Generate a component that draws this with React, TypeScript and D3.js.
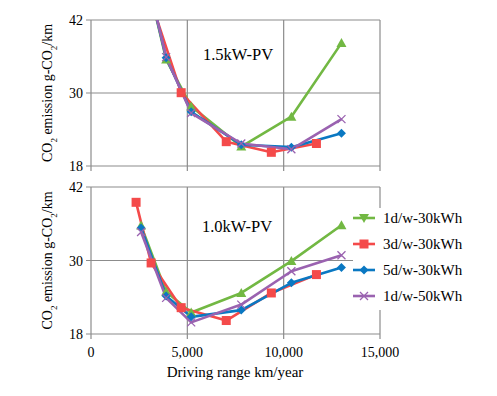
import { useEffect, useRef } from 'react';
import * as d3 from 'd3';

// driving range (km/year) per series
const xCommon = [2600, 3900, 5200, 7800, 10400, 13000];
const xRed = [2340, 3120, 4680, 7020, 9360, 11700];

// 1.5kW-PV panel (g-CO2/km), first points run off the top
const greenTop = [53, 35.5, 27.8, 21.2, 26.1, 38.2];
const redTop = [58, 45, 30.05, 22.0, 20.25, 21.7];
const blueTop = [53, 35.8, 26.9, 21.5, 21.1, 23.4];
const purpleTop = [53, 35.9, 26.7, 21.7, 20.75, 25.7];

// 1.0kW-PV panel
const greenBot = [35.7, 24.9, 21.5, 24.7, 29.9, 35.75];
const redBot = [39.5, 29.6, 22.3, 20.2, 24.7, 27.7];
const blueBot = [35.3, 24.2, 20.8, 21.9, 26.35, 28.85];
const purpleBot = [34.65, 23.9, 19.9, 22.8, 28.25, 30.85];

const seriesNames = ['1d/w-30kWh', '3d/w-30kWh', '5d/w-30kWh', '1d/w-50kWh'];
const panelLabels = ['1.5kW-PV', '1.0kW-PV'];
const xTicks = [0, 5000, 10000, 15000];
const yTicks = [18, 30, 42];

type Marker = 'tri' | 'square' | 'diamond' | 'cross';
const colors = ['#72b843', '#f44a4a', '#0a78c2', '#9a62b0'];
const markers: Marker[] = ['tri', 'square', 'diamond', 'cross'];

const W = 497;
const H = 396;

const App = () => {
  const svgRef = useRef<SVGSVGElement | null>(null);

  useEffect(() => {
    if (!svgRef.current) return;
    const svg = d3.select(svgRef.current);
    svg.selectAll('*').remove();

    const font = '"Liberation Serif", "Times New Roman", serif';
    const grid = '#8c8c8c';

    const x = d3.scaleLinear().domain([0, 15000]).range([91, 380]);

    const panels = [
      { top: 20, bottom: 166, data: [greenTop, redTop, blueTop, purpleTop], label: panelLabels[0], lx: 238, ly: 60 },
      { top: 187, bottom: 334, data: [greenBot, redBot, blueBot, purpleBot], label: panelLabels[1], lx: 237, ly: 232 },
    ];

    const drawMarker = (g: d3.Selection<SVGGElement, unknown, null, undefined>, m: Marker, cx: number, cy: number, c: string, flip = false) => {
      if (m === 'tri') {
        const s = flip ? -1 : 1;
        g.append('path')
          .attr('d', `M${cx},${cy - 5 * s} L${cx + 5},${cy + 4 * s} L${cx - 5},${cy + 4 * s} Z`)
          .attr('fill', c);
      } else if (m === 'square') {
        g.append('rect').attr('x', cx - 4.5).attr('y', cy - 4.5).attr('width', 9).attr('height', 9).attr('fill', c);
      } else if (m === 'diamond') {
        g.append('path')
          .attr('d', `M${cx},${cy - 4.5} L${cx + 4.5},${cy} L${cx},${cy + 4.5} L${cx - 4.5},${cy} Z`)
          .attr('fill', c);
      } else {
        g.append('path')
          .attr('d', `M${cx - 4},${cy - 4} L${cx + 4},${cy + 4} M${cx - 4},${cy + 4} L${cx + 4},${cy - 4}`)
          .attr('stroke', c)
          .attr('stroke-width', 1.3)
          .attr('fill', 'none');
      }
    };

    panels.forEach((p, pi) => {
      const y = d3.scaleLinear().domain([18, 42]).range([p.bottom, p.top]);
      const g = svg.append('g');

      // grid
      yTicks.forEach(t => {
        g.append('line')
          .attr('x1', x(0) - 5).attr('x2', x(15000))
          .attr('y1', y(t)).attr('y2', y(t))
          .attr('stroke', grid).attr('stroke-width', 1.2);
        g.append('text')
          .attr('x', x(0) - 8).attr('y', y(t) + 5)
          .attr('text-anchor', 'end')
          .style('font-family', font).style('font-size', '14px')
          .text(t);
      });
      xTicks.forEach(t => {
        g.append('line')
          .attr('x1', x(t)).attr('x2', x(t))
          .attr('y1', p.top).attr('y2', p.bottom + 5)
          .attr('stroke', grid).attr('stroke-width', 1.2);
      });

      // y title
      const yt = g.append('text')
        .attr('transform', `translate(52,${(p.top + p.bottom) / 2}) rotate(-90)`)
        .attr('text-anchor', 'middle')
        .style('font-family', font).style('font-size', '14px');
      yt.append('tspan').text('CO');
      yt.append('tspan').attr('baseline-shift', 'sub').style('font-size', '9px').text('2');
      yt.append('tspan').text(' emission g-CO');
      yt.append('tspan').attr('baseline-shift', 'sub').style('font-size', '9px').text('2');
      yt.append('tspan').text('/km');

      const clipId = `clip${pi}`;
      svg.append('clipPath').attr('id', clipId)
        .append('rect')
        .attr('x', x(0) - 10).attr('y', p.top)
        .attr('width', x(15000) - x(0) + 20).attr('height', p.bottom - p.top + 10);

      const lines = svg.append('g').attr('clip-path', `url(#${clipId})`);
      p.data.forEach((vals, si) => {
        const xs = si === 1 ? xRed : xCommon;
        const pts: [number, number][] = vals.map((v, i) => [x(xs[i]), y(v)]);
        lines.append('path')
          .attr('d', d3.line()(pts))
          .attr('fill', 'none')
          .attr('stroke', colors[si])
          .attr('stroke-width', 2.6)
          .attr('stroke-linejoin', 'round');
      });
      p.data.forEach((vals, si) => {
        const xs = si === 1 ? xRed : xCommon;
        vals.forEach((v, i) => {
          if (v > 42) return;
          drawMarker(lines, markers[si], x(xs[i]), y(v), colors[si]);
        });
      });

      svg.append('text')
        .attr('x', p.lx).attr('y', p.ly)
        .attr('text-anchor', 'middle')
        .style('font-family', font).style('font-size', '16.5px')
        .text(p.label);
    });

    // x tick labels + title
    xTicks.forEach(t => {
      svg.append('text')
        .attr('x', x(t)).attr('y', 357)
        .attr('text-anchor', 'middle')
        .style('font-family', font).style('font-size', '14px')
        .text(d3.format(',')(t));
    });
    svg.append('text')
      .attr('x', 235).attr('y', 377)
      .attr('text-anchor', 'middle')
      .style('font-family', font).style('font-size', '15px')
      .text('Driving range km/year');

    // legend
    const lg = svg.append('g');
    lg.append('rect').attr('x', 353).attr('y', 208).attr('width', 144).attr('height', 102).attr('fill', '#fff');
    seriesNames.forEach((name, i) => {
      const ly = 218 + i * 26;
      lg.append('line')
        .attr('x1', 353).attr('x2', 375).attr('y1', ly).attr('y2', ly)
        .attr('stroke', colors[i]).attr('stroke-width', 2.6);
      drawMarker(lg, markers[i], 364, ly, colors[i], true);
      lg.append('text')
        .attr('x', 383).attr('y', ly + 5)
        .style('font-family', font).style('font-size', '15px')
        .text(name);
    });
  }, []);

  return (
    <svg
      ref={svgRef}
      width={W}
      height={H}
      style={{ position: 'absolute', left: 0, top: 0, background: '#fff' }}
    />
  );
};

export default App;
